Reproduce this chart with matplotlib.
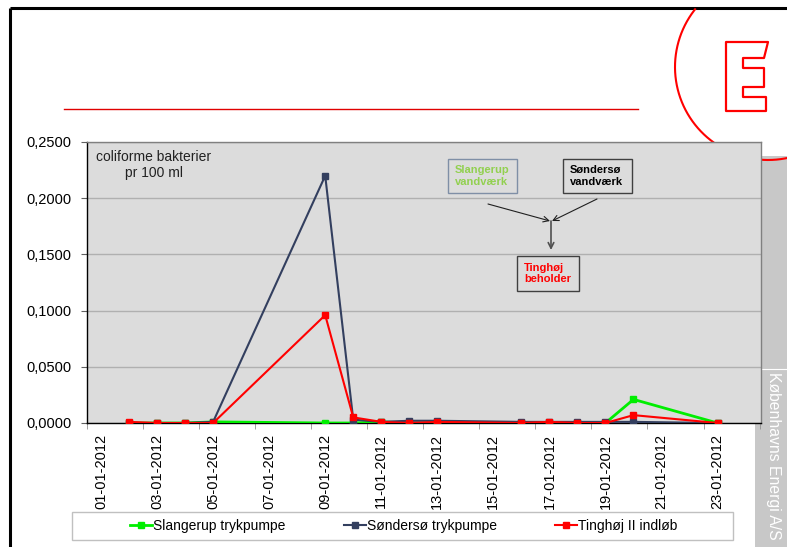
import numpy as np
import pandas as pd
import matplotlib
matplotlib.use("Agg")
import matplotlib.pyplot as plt
import matplotlib.dates as mdates
from matplotlib.patches import Rectangle, Polygon
from matplotlib.ticker import FuncFormatter, FixedLocator

plt.rcParams["font.family"] = ["Liberation Sans", "DejaVu Sans"]

# Sample dates and measured values (coliforme bakterier pr 100 ml)
dates = ["02-01-2012", "03-01-2012", "04-01-2012", "05-01-2012", "09-01-2012",
         "10-01-2012", "11-01-2012", "12-01-2012", "13-01-2012", "16-01-2012",
         "17-01-2012", "18-01-2012", "19-01-2012", "20-01-2012", "23-01-2012"]
slangerup = [0, 0, 0, 0.001, 0, 0, 0.001, 0, 0, 0, 0, 0, 0, 0.021, 0]
sondersoe = [0, 0, 0, 0.001, 0.22, 0.003, 0.001, 0.002, 0.002, 0.001, 0.001, 0.001, 0.001, 0.001, 0]
tinghoej = [0.001, 0, 0, 0, 0.096, 0.005, 0.001, 0, 0.001, 0, 0.001, 0, 0, 0.007, 0]

series = [
    ("Slangerup trykpumpe", slangerup, "#00EE00", 2.0),
    ("Søndersø trykpumpe", sondersoe, "#333F5F", 1.5),
    ("Tinghøj II indløb", tinghoej, "#FF0000", 1.5),
]

W, H = 787, 547
fig = plt.figure(figsize=(W / 100, H / 100), dpi=100)


def fx(x):
    return x / W


def fy(y):
    return 1 - y / H


# slide background layer (pixel coordinates, y downwards)
bg = fig.add_axes([0, 0, 1, 1], zorder=-1)
bg.set_xlim(0, W)
bg.set_ylim(H, 0)
bg.axis("off")

bg.plot([10, 10], [8, H], color="black", lw=2.2, solid_capstyle="butt")
bg.plot([10, W], [8, 8], color="black", lw=2.2, solid_capstyle="butt")
bg.plot([64, 638], [109, 109], color="#E00000", lw=1.0)

# grey side bar with company name
bg.add_patch(Rectangle((755, 156), W - 755, H - 156, facecolor="#C8C8C8", edgecolor="none"))
bg.plot([762, W], [369, 369], color="white", lw=0.8)
bg.text(774, 372, "Københavns Energi A/S", rotation=270, color="white",
        fontsize=11.3, ha="center", va="top")

# logo: round red outline with an E
t = np.linspace(0, 2 * np.pi, 400)
cx, cy, r = 768, 67, 93
lx = cx + r * np.cos(t)
ly = cy + r * np.sin(t)
keep = ly > 9
lx = np.where(keep, lx, np.nan)
ly = np.where(keep, ly, np.nan)
bg.plot(lx, ly, color="#FF0000", lw=1.5)
e_shape = [(726, 42), (768, 42), (764, 58), (743, 58), (743, 68), (764, 68),
           (764, 87), (743, 87), (743, 97), (766, 97), (766, 111), (726, 111)]
bg.add_patch(Polygon(e_shape, closed=True, fill=False, edgecolor="#FF0000",
                     lw=1.6, joinstyle="round"))

# legend frame
bg.add_patch(Rectangle((72, 512), 661, 28, facecolor="white", edgecolor="#C0C0C0", lw=1))

# main chart
ax = fig.add_axes([fx(87), fy(423), fx(761) - fx(87), fy(142) - fy(423)])
ax.set_facecolor("#DCDCDC")

x = mdates.date2num(pd.to_datetime(dates, format="%d-%m-%Y"))
for name, vals, col, lw in series:
    ax.plot(x, vals, color=col, lw=lw, marker="s", markersize=4.5,
            markeredgecolor=col, label=name, zorder=3)

start = mdates.date2num(pd.Timestamp("2012-01-01"))
ax.set_xlim(start - 0.5, start + 23.55)
ax.set_ylim(0, 0.25)

ax.set_yticks(np.arange(0, 0.2501, 0.05))
ax.yaxis.set_major_formatter(FuncFormatter(lambda v, p: f"{v:.4f}".replace(".", ",")))
ax.yaxis.grid(True, color="#B0B0B0", lw=1)
ax.set_axisbelow(True)

label_days = start + np.arange(0, 23, 2)
ax.xaxis.set_major_locator(FixedLocator(label_days))
ax.xaxis.set_major_formatter(mdates.DateFormatter("%d-%m-%Y"))
ax.xaxis.set_minor_locator(FixedLocator(start - 0.5 + np.arange(0, 25, 2)))
ax.tick_params(axis="x", which="major", length=0, pad=8, labelrotation=90, labelsize=10.5)
ax.tick_params(axis="x", which="minor", length=4, color="#909090", direction="out")
ax.tick_params(axis="y", length=4, color="#606060", pad=7, labelsize=10.5)

for s in ["left", "bottom"]:
    ax.spines[s].set_color("black")
    ax.spines[s].set_linewidth(1)
for s in ["top", "right"]:
    ax.spines[s].set_color("#808080")
    ax.spines[s].set_linewidth(1)

ax.text(fx(154), fy(150), "coliforme bakterier\npr 100 ml", transform=fig.transFigure,
        ha="center", va="top", multialignment="center", fontsize=10, color="#222222")

fig.legend(*ax.get_legend_handles_labels(), loc="center", ncol=3,
           bbox_to_anchor=(fx(404), fy(526)), frameon=False, fontsize=10,
           handlelength=1.55, handletextpad=0.1, columnspacing=4.2)

# flow diagram on top of the plot
top = fig.add_axes([0, 0, 1, 1], zorder=5)
top.set_xlim(0, W)
top.set_ylim(H, 0)
top.axis("off")

boxes = [
    (448, 159, 69, 34, "#7F8FA6", "Slangerup\nvandværk", "#92D050"),
    (563, 159, 69, 34, "#404040", "Søndersø\nvandværk", "#000000"),
    (517, 256, 62, 35, "#404040", "Tinghøj\nbeholder", "#FF0000"),
]
for bx, by, bw, bh, ec, txt, tc in boxes:
    top.add_patch(Rectangle((bx, by), bw, bh, facecolor="#DCDCDC", edgecolor=ec, lw=1))
    top.text(bx + 7, by + bh / 2, txt, ha="left", va="center", fontsize=8,
             fontweight="bold", color=tc, linespacing=1.2)

arrow = dict(arrowstyle="->", color="#202020", lw=0.8, shrinkA=0, shrinkB=0)
top.annotate("", xy=(550, 221), xytext=(488, 204), arrowprops=arrow)
top.annotate("", xy=(552, 221), xytext=(597, 199), arrowprops=arrow)
top.annotate("", xy=(551, 250), xytext=(551, 221),
             arrowprops=dict(arrowstyle="->", color="#505050", lw=1.2, shrinkA=0, shrinkB=0))

fig.savefig("out.png", dpi=100)
plt.close(fig)
